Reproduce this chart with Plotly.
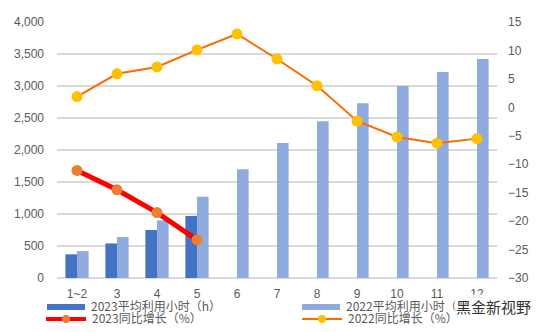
import plotly.graph_objects as go

# Monthly categories
months = ["1~2", "3", "4", "5", "6", "7", "8", "9", "10", "11", "12"]

# Average utilization hours (h)
hours_2023 = [370, 540, 750, 970, None, None, None, None, None, None, None]
hours_2022 = [420, 640, 900, 1270, 1700, 2110, 2450, 2730, 3000, 3220, 3420]

# Year-over-year growth (%)
yoy_2023 = [-11.1, -14.5, -18.5, -23.3, None, None, None, None, None, None, None]
yoy_2022 = [1.9, 5.9, 7.1, 10.1, 12.9, 8.5, 3.8, -2.4, -5.2, -6.3, -5.5]

left_ticks = list(range(0, 4001, 500))
right_ticks = list(range(-30, 16, 5))

C_BAR23 = "#4472C4"
C_BAR22 = "#8FAADC"
C_LINE23 = "#FF0000"
C_MK23 = "#ED7D31"
C_LINE22 = "#FF6A00"
C_MK22 = "#FFC000"
TICK_FONT = dict(family="Liberation Sans, Arial, sans-serif", size=12, color="#595959")
CJK = "Noto Sans CJK SC, Liberation Sans, sans-serif"

fig = go.Figure()
fig.add_trace(go.Bar(x=months, y=hours_2023, name="2023平均利用小时（h）",
                     marker=dict(color=C_BAR23, line=dict(width=0))))
fig.add_trace(go.Bar(x=months, y=hours_2022, name="2022平均利用小时（h）",
                     marker=dict(color=C_BAR22, line=dict(width=0))))
fig.add_trace(go.Scatter(x=months, y=yoy_2023, yaxis="y2", name="2023同比增长（%）",
                         mode="lines+markers",
                         line=dict(color=C_LINE23, width=5),
                         marker=dict(color=C_MK23, size=11, line=dict(width=0))))
fig.add_trace(go.Scatter(x=months, y=yoy_2022, yaxis="y2", name="2022同比增长（%）",
                         mode="lines+markers",
                         line=dict(color=C_LINE22, width=2),
                         marker=dict(color=C_MK22, size=11, line=dict(width=0))))

# Plot area geometry in pixels (used for the hand-built legend)
W, H = 546, 332
L, R, T, B = 57, 49, 22, 54
PW, PH = W - L - R, H - T - B


def px(x):
    return (x - L) / PW


def py(y):
    return (H - B - y) / PH


shapes = []
annotations = []


def legend_bar(x0, y, color, text, ty):
    shapes.append(dict(type="rect", xref="paper", yref="paper",
                       x0=px(x0), x1=px(x0 + 38), y0=py(y + 3), y1=py(y - 3),
                       fillcolor=color, line=dict(width=0), layer="above"))
    annotations.append(dict(xref="paper", yref="paper", x=px(x0 + 42), y=py(ty),
                            xanchor="left", yanchor="middle", showarrow=False,
                            text=text, font=dict(family=CJK, size=12, color="#595959")))


def legend_line(x0, y, lcolor, lwidth, mcolor, text, ty):
    shapes.append(dict(type="line", xref="paper", yref="paper",
                       x0=px(x0), x1=px(x0 + 40), y0=py(y), y1=py(y),
                       line=dict(color=lcolor, width=lwidth), layer="above"))
    shapes.append(dict(type="circle", xref="paper", yref="paper",
                       x0=px(x0 + 16), x1=px(x0 + 24), y0=py(y + 4), y1=py(y - 4),
                       fillcolor=mcolor, line=dict(width=0), layer="above"))
    annotations.append(dict(xref="paper", yref="paper", x=px(x0 + 44), y=py(ty),
                            xanchor="left", yanchor="middle", showarrow=False,
                            text=text, font=dict(family=CJK, size=12, color="#595959")))


legend_bar(47, 307, C_BAR23, "2023平均利用小时（h）", 305)
legend_bar(302, 307, C_BAR22, "2022平均利用小时（h）", 305)
legend_line(46, 319, C_LINE23, 4, C_MK23, "2023同比增长（%）", 317)
legend_line(302, 319, C_LINE22, 2, C_MK22, "2022同比增长（%）", 317)

annotations.append(dict(xref="paper", yref="paper", x=px(493), y=py(306),
                        xanchor="center", yanchor="middle", showarrow=False,
                        text="黑金新视野", bgcolor="rgba(255,255,255,0.85)",
                        font=dict(family=CJK, size=15, color="#333333")))

fig.update_layout(
    width=W, height=H,
    margin=dict(l=L, r=R, t=T, b=B, pad=0, autoexpand=False),
    paper_bgcolor="white", plot_bgcolor="white",
    barmode="group", bargap=0.42, bargroupgap=0,
    showlegend=False,
    xaxis=dict(type="category", range=[-0.5, len(months) - 0.5],
               showgrid=False, showline=False, zeroline=False,
               ticks="outside", ticklen=5, tickcolor="rgba(0,0,0,0)",
               tickangle=0, tickfont=TICK_FONT, automargin=False),
    yaxis=dict(range=[0, 4000], tickvals=left_ticks, tickformat=",",
               showgrid=True, gridcolor="#D9D9D9", gridwidth=1.5,
               zeroline=True, zerolinecolor="#D9D9D9", zerolinewidth=1.5,
               showline=False, ticks="", tickfont=TICK_FONT, ticklabelstandoff=12,
               automargin=False),
    yaxis2=dict(range=[-30, 15], tickvals=right_ticks, overlaying="y", side="right",
                showgrid=False, zeroline=False, showline=False, ticks="",
                tickfont=TICK_FONT, ticklabelstandoff=10, automargin=False),
    shapes=shapes,
    annotations=annotations,
)

fig.write_html("out.html")
